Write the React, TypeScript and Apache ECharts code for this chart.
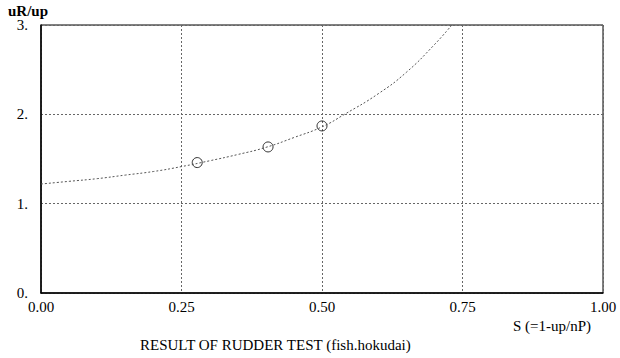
import React, { useEffect, useRef } from "react";
import * as echarts from "echarts";

const xTicks = [0, 0.25, 0.5, 0.75, 1];
const yTicks = [0, 1, 2, 3];
const curveX = [0, 0.05, 0.1, 0.15, 0.2, 0.25, 0.3, 0.35, 0.4, 0.45, 0.5, 0.54, 0.6, 0.65, 0.7, 0.731];
const curveY = [1.22, 1.25, 1.28, 1.32, 1.36, 1.415, 1.48, 1.55, 1.63, 1.74, 1.86, 2.0, 2.23, 2.47, 2.78, 3.0];
const pointX = [0.278, 0.404, 0.5];
const pointY = [1.46, 1.635, 1.87];
const yAxisTitle = "uR/up";
const xAxisTitle = "S (=1-up/nP)";
const caption = "RESULT OF RUDDER TEST (fish.hokudai)";

const FONT = "'Times New Roman', 'Liberation Serif', serif";

export default function App() {
  const ref = useRef<HTMLDivElement>(null);
  useEffect(() => {
    if (!ref.current) return;
    const chart = echarts.init(ref.current, null, { renderer: "svg" });
    chart.setOption({
      animation: false,
      backgroundColor: "#ffffff",
      textStyle: { fontFamily: FONT },
      grid: {
        left: 41,
        right: 17,
        top: 25,
        bottom: 65,
        show: true,
        borderColor: "#000",
        borderWidth: 1,
        backgroundColor: "transparent",
      },
      xAxis: {
        type: "value",
        min: xTicks[0],
        max: xTicks[xTicks.length - 1],
        interval: 0.25,
        axisLine: { show: true, onZero: false, lineStyle: { color: "#000", width: 1.5 } },
        axisTick: { show: false },
        axisLabel: {
          color: "#000",
          fontFamily: FONT,
          fontSize: 15,
          margin: 6,
          formatter: (v: number) => v.toFixed(2),
        },
        splitLine: { show: true, lineStyle: { color: "#666", type: [2, 2], width: 1 } },
      },
      yAxis: {
        type: "value",
        min: yTicks[0],
        max: yTicks[yTicks.length - 1],
        interval: 1,
        axisLine: { show: true, onZero: false, lineStyle: { color: "#000", width: 1.5 } },
        axisTick: { show: false },
        axisLabel: {
          color: "#000",
          fontFamily: FONT,
          fontSize: 15,
          margin: 13,
          formatter: (v: number) => `${v}.`,
        },
        splitLine: { show: true, lineStyle: { color: "#666", type: [2, 2], width: 1 } },
      },
      series: [
        {
          type: "line",
          data: curveX.map((x, i) => [x, curveY[i]]),
          smooth: true,
          showSymbol: false,
          symbol: "none",
          lineStyle: { color: "#555", width: 1, type: [2, 2] },
          silent: true,
        },
        {
          type: "scatter",
          data: pointX.map((x, i) => [x, pointY[i]]),
          symbol: "circle",
          symbolSize: 10,
          itemStyle: { color: "rgba(255,255,255,0)", borderColor: "#000", borderWidth: 1 },
        },
      ],
      graphic: [
        {
          type: "text",
          left: 8,
          top: 3,
          style: { text: yAxisTitle, fontFamily: FONT, fontSize: 15, fontWeight: "bold", fill: "#000" },
        },
        {
          type: "text",
          left: 513,
          top: 318,
          style: { text: xAxisTitle, fontFamily: FONT, fontSize: 15, fill: "#000" },
        },
        {
          type: "text",
          left: 140,
          top: 337,
          style: { text: caption, fontFamily: FONT, fontSize: 15, fill: "#000" },
        },
      ],
    });
    return () => chart.dispose();
  }, []);
  return <div ref={ref} style={{ width: 620, height: 358, position: "absolute", left: 0, top: 0 }} />;
}
